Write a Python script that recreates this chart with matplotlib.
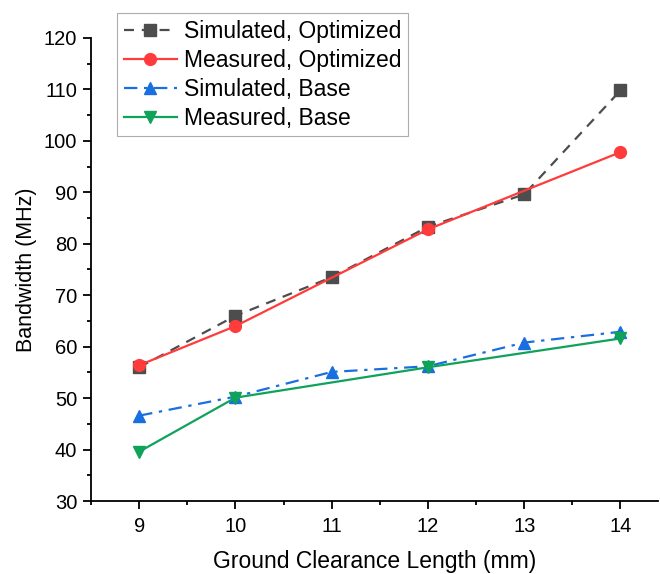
import matplotlib
matplotlib.use("Agg")
import matplotlib.pyplot as plt
from matplotlib.ticker import MultipleLocator

plt.rcParams['font.family'] = ['Liberation Sans', 'DejaVu Sans']

# data
length_all = [9, 10, 11, 12, 13, 14]
length_meas = [9, 10, 12, 14]
sim_opt = [56.0, 66.0, 73.5, 83.3, 89.6, 109.8]
meas_opt = [56.4, 64.0, 82.8, 97.8]
sim_base = [46.6, 50.3, 55.1, 56.2, 60.8, 62.9]
meas_base = [39.6, 50.1, 56.0, 61.6]

fig = plt.figure(figsize=(6.6, 5.74), dpi=100)
ax = fig.add_axes([0.138, 0.127, 0.859, 0.807])

ax.plot(length_all, sim_opt, color='#4d4d4d', ls=(0, (4.5, 3.5)), lw=1.6,
        marker='s', ms=8, label='Simulated, Optimized')
ax.plot(length_meas, meas_opt, color='#ff3b3b', ls='-', lw=1.6,
        marker='o', ms=8.5, label='Measured, Optimized')
ax.plot(length_all, sim_base, color='#1a6fe0', ls=(0, (6, 3, 1.5, 3)), lw=1.6,
        marker='^', ms=9, label='Simulated, Base')
ax.plot(length_meas, meas_base, color='#0fa35a', ls='-', lw=1.6,
        marker='v', ms=9, label='Measured, Base')

ax.set_xlim(8.5, 14.39)
ax.set_ylim(30, 120)
ax.xaxis.set_major_locator(MultipleLocator(1))
ax.xaxis.set_minor_locator(MultipleLocator(0.5))
ax.yaxis.set_major_locator(MultipleLocator(10))
ax.yaxis.set_minor_locator(MultipleLocator(5))

for side in ['top', 'right']:
    ax.spines[side].set_visible(False)
for side in ['left', 'bottom']:
    ax.spines[side].set_linewidth(1.3)
ax.tick_params(which='major', direction='out', length=5.5, width=1.3, labelsize=14.5)
ax.tick_params(axis='x', which='major', pad=6)
ax.tick_params(axis='y', which='major', pad=4.5)
ax.tick_params(which='minor', direction='out', length=3, width=1.3)

ax.set_xlabel('Ground Clearance Length (mm)', fontsize=16.5, labelpad=10)
ax.set_ylabel('Bandwidth (MHz)', fontsize=15.5, labelpad=5)

leg = ax.legend(loc='upper left', bbox_to_anchor=(0.046, 1.054), fontsize=16.5,
                frameon=True, fancybox=False, handlelength=2.3, borderpad=0.3,
                labelspacing=0.26, handletextpad=0.3, borderaxespad=0.0)
leg.get_frame().set_edgecolor('#999999')
leg.get_frame().set_linewidth(0.8)

fig.savefig('out.png', dpi=100)
